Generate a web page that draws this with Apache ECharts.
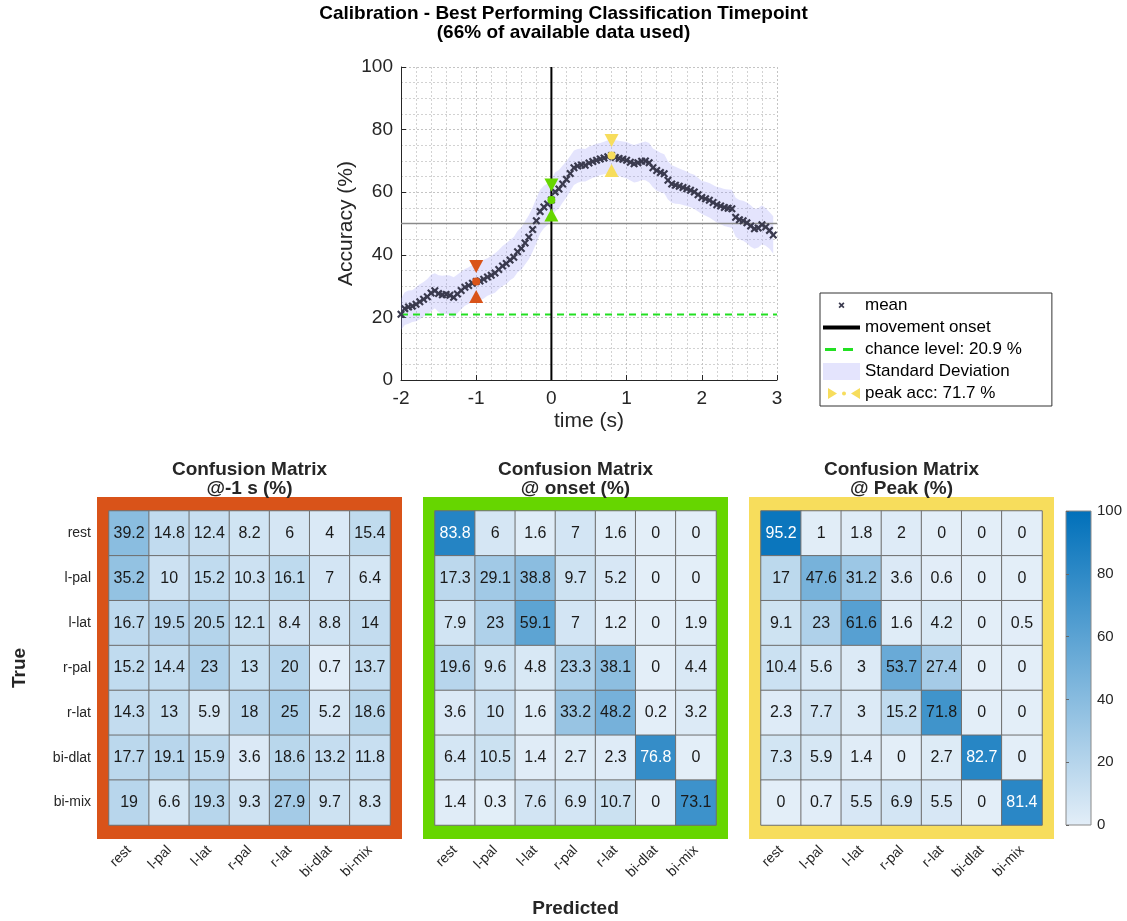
<!DOCTYPE html>
<html>
<head>
<meta charset="utf-8">
<title>Calibration - Best Performing Classification Timepoint</title>
<script src="https://cdn.jsdelivr.net/npm/echarts@6/dist/echarts.min.js"></script>
<style>
  html, body { margin: 0; padding: 0; background: #fff; }
  #echarts-wrapper { width: 1127px; height: 921px; }
</style>
</head>
<body>
<div id="echarts-wrapper"></div>
<script>
// ---- data --------------------------------------------------------------
// sample times of the accuracy curve (s)
var times = [
  -2.00, -1.95, -1.90, -1.85, -1.80, -1.75, -1.70, -1.65, -1.60, -1.55,
  -1.50, -1.45, -1.40, -1.35, -1.30, -1.25, -1.20, -1.15, -1.10, -1.05,
  -1.00, -0.95, -0.90, -0.85, -0.80, -0.75, -0.70, -0.65, -0.60, -0.55,
  -0.50, -0.45, -0.40, -0.35, -0.30, -0.25, -0.20, -0.15, -0.10, -0.05,
   0.00,  0.05,  0.10,  0.15,  0.20,  0.25,  0.30,  0.35,  0.40,  0.45,
   0.50,  0.55,  0.60,  0.65,  0.70,  0.75,  0.80,  0.85,  0.90,  0.95,
   1.00,  1.05,  1.10,  1.15,  1.20,  1.25,  1.30,  1.35,  1.40,  1.45,
   1.50,  1.55,  1.60,  1.65,  1.70,  1.75,  1.80,  1.85,  1.90,  1.95,
   2.00,  2.05,  2.10,  2.15,  2.20,  2.25,  2.30,  2.35,  2.40,  2.45,
   2.50,  2.55,  2.60,  2.65,  2.70,  2.75,  2.80,  2.85,  2.90,  2.95
];
// mean accuracy (%)
var meanAcc = [
  21.0, 22.8, 23.3, 23.6, 24.2, 25.0, 25.8, 26.6, 27.8, 28.5,
  27.6, 27.2, 27.3, 27.1, 26.4, 27.5, 28.6, 29.6, 30.2, 30.9,
  31.5, 31.6, 32.2, 32.9, 33.5, 34.2, 35.3, 36.4, 37.2, 38.3,
  39.2, 41.0, 42.0, 43.8, 45.6, 48.1, 50.9, 53.8, 55.3, 56.2,
  57.5, 60.1, 61.0, 62.6, 64.1, 66.0, 67.8, 68.4, 68.7, 68.6,
  69.3, 69.8, 70.2, 70.6, 70.9, 71.3, 71.7, 71.1, 70.8, 70.5,
  70.2, 69.6, 69.1, 69.4, 69.9, 70.0, 69.4, 67.8, 66.9, 66.3,
  65.9, 63.8, 62.6, 62.2, 61.9, 61.5, 61.1, 60.6, 60.1, 59.2,
  58.3, 57.9, 57.4, 56.7, 56.0, 55.6, 55.1, 54.9, 54.7, 52.0,
  51.2, 50.9, 50.2, 49.2, 48.3, 48.6, 49.6, 48.9, 47.8, 46.3
];
// standard deviation (%)
var stdAcc = [
  5.0, 5.2, 5.3, 5.1, 5.4, 5.6, 5.5, 5.7, 5.8, 5.6,
  5.9, 6.1, 6.2, 6.3, 6.4, 6.2, 6.0, 5.9, 5.8, 5.9,
  6.0, 6.1, 6.2, 6.0, 6.1, 6.3, 6.2, 6.4, 6.5, 6.4,
  6.5, 6.6, 6.8, 6.9, 7.0, 7.1, 7.2, 7.0, 6.8, 6.6,
  6.5, 6.3, 6.1, 5.9, 5.8, 5.6, 5.5, 5.4, 5.3, 5.2,
  5.3, 5.2, 5.3, 5.1, 5.2, 5.3, 5.4, 5.5, 5.6, 5.7,
  5.8, 5.9, 6.0, 6.1, 6.0, 6.2, 6.3, 6.2, 6.4, 6.3,
  6.2, 6.1, 6.0, 5.9, 5.7, 5.6, 5.5, 5.4, 5.5, 5.4,
  5.3, 5.4, 5.5, 5.6, 5.7, 5.8, 5.9, 6.0, 6.1, 6.2,
  6.3, 6.4, 6.5, 6.6, 6.4, 6.3, 6.2, 6.0, 5.9, 6.0
];
var chanceLevel = 20.9;
var refLevel = 50;
var onsetTime = 0;
var timeRange = [-2, 3];
var accRange = [0, 100];

// highlighted timepoints: -1 s, onset, peak
var markTimes = [-1, 0, 0.8];
var markAcc = [31.5, 57.5, 71.7];

var classes = ['rest', 'l-pal', 'l-lat', 'r-pal', 'r-lat', 'bi-dlat', 'bi-mix'];
var cmMinus1 = [
  [39.2, 14.8, 12.4, 8.2, 6, 4, 15.4],
  [35.2, 10, 15.2, 10.3, 16.1, 7, 6.4],
  [16.7, 19.5, 20.5, 12.1, 8.4, 8.8, 14],
  [15.2, 14.4, 23, 13, 20, 0.7, 13.7],
  [14.3, 13, 5.9, 18, 25, 5.2, 18.6],
  [17.7, 19.1, 15.9, 3.6, 18.6, 13.2, 11.8],
  [19, 6.6, 19.3, 9.3, 27.9, 9.7, 8.3]
];
var cmOnset = [
  [83.8, 6, 1.6, 7, 1.6, 0, 0],
  [17.3, 29.1, 38.8, 9.7, 5.2, 0, 0],
  [7.9, 23, 59.1, 7, 1.2, 0, 1.9],
  [19.6, 9.6, 4.8, 23.3, 38.1, 0, 4.4],
  [3.6, 10, 1.6, 33.2, 48.2, 0.2, 3.2],
  [6.4, 10.5, 1.4, 2.7, 2.3, 76.8, 0],
  [1.4, 0.3, 7.6, 6.9, 10.7, 0, 73.1]
];
var cmPeak = [
  [95.2, 1, 1.8, 2, 0, 0, 0],
  [17, 47.6, 31.2, 3.6, 0.6, 0, 0],
  [9.1, 23, 61.6, 1.6, 4.2, 0, 0.5],
  [10.4, 5.6, 3, 53.7, 27.4, 0, 0],
  [2.3, 7.7, 3, 15.2, 71.8, 0, 0],
  [7.3, 5.9, 1.4, 0, 2.7, 82.7, 0],
  [0, 0.7, 5.5, 6.9, 5.5, 0, 81.4]
];
var cmTitles = ['Confusion Matrix\n@-1 s (%)', 'Confusion Matrix\n@ onset (%)', 'Confusion Matrix\n@ Peak (%)'];
var colorbarTicks = [0, 20, 40, 60, 80, 100];

// ---- look --------------------------------------------------------------
var FONT = '"Liberation Sans", Arial, Helvetica, sans-serif';
var INK = '#262626';
var markColors = ['#D95319', '#66D600', '#F7DD5C'];
var bandColor = 'rgba(150,150,248,0.26)';
var cmapLow = '#E3EEF8', cmapHigh = '#0070BA';
var peakName = 'peak acc: ' + markAcc[2] + ' %';
var chanceName = 'chance level: ' + chanceLevel + ' %';

var cmLefts = [109, 435, 761], cmTop = 511, cmW = 281, cmH = 314;

// filled "x" used for the mean markers
var crossPath = 'path://M0,1.9L1.9,0L5,3.1L8.1,0L10,1.9L6.9,5L10,8.1L8.1,10L5,6.9L1.9,10L0,8.1L3.1,5Z';

var myChart = echarts.init(document.getElementById('echarts-wrapper'), null, {renderer: 'canvas'});

var titles = [{
  text: 'Calibration - Best Performing Classification Timepoint\n(66% of available data used)',
  left: 'center', top: 4, padding: 0,
  textStyle: {fontFamily: FONT, fontSize: 19, fontWeight: 'bold', color: '#000', lineHeight: 19}
}];
var grids = [{left: 401, top: 67, width: 376, height: 313, outerBoundsMode: 'none'}];
var xAxes = [{
  type: 'value', gridIndex: 0, min: timeRange[0], max: timeRange[1], interval: 1,
  name: 'time (s)', nameLocation: 'middle', nameGap: 31,
  nameTextStyle: {fontFamily: FONT, fontSize: 21, color: INK},
  axisLine: {show: true, onZero: false, lineStyle: {color: INK, width: 1}},
  axisTick: {show: true, inside: true, length: 5, lineStyle: {color: INK}},
  axisLabel: {fontFamily: FONT, fontSize: 19, color: INK, margin: 9},
  splitLine: {show: true, lineStyle: {color: '#c4c4c4', type: [2, 2]}},
  minorTick: {show: false, splitNumber: 5},
  minorSplitLine: {show: true, lineStyle: {color: '#d2d2d2', type: [2, 2]}}
}];
var yAxes = [{
  type: 'value', gridIndex: 0, min: accRange[0], max: accRange[1], interval: 20,
  name: 'Accuracy (%)', nameLocation: 'middle', nameGap: 44, nameRotate: 90,
  nameTextStyle: {fontFamily: FONT, fontSize: 21, color: INK},
  axisLine: {show: true, onZero: false, lineStyle: {color: INK, width: 1}},
  axisTick: {show: true, inside: true, length: 5, lineStyle: {color: INK}},
  axisLabel: {fontFamily: FONT, fontSize: 19, color: INK, margin: 8},
  splitLine: {show: true, lineStyle: {color: '#c4c4c4', type: [2, 2]}},
  minorTick: {show: false, splitNumber: 4},
  minorSplitLine: {show: true, lineStyle: {color: '#d2d2d2', type: [2, 2]}}
}];

// std band: one polygon, mean+std forwards then mean-std backwards
function renderBand(params, api) {
  if (params.dataIndex !== 0) return null;
  var pts = [];
  var i;
  for (i = 0; i < times.length; i++) pts.push(api.coord([times[i], meanAcc[i] + stdAcc[i]]));
  for (i = times.length - 1; i >= 0; i--) pts.push(api.coord([times[i], meanAcc[i] - stdAcc[i]]));
  return {type: 'polygon', shape: {points: pts}, style: {fill: bandColor}};
}

var series = [
  {
    name: 'Standard Deviation', type: 'custom', xAxisIndex: 0, yAxisIndex: 0, z: 1, silent: true,
    renderItem: renderBand, clip: true,
    color: bandColor, itemStyle: {color: bandColor},
    data: times.map(function (t, i) { return [t, meanAcc[i] - stdAcc[i], meanAcc[i] + stdAcc[i]]; }),
    encode: {x: 0, y: [1, 2]}
  },
  {
    name: 'ref', type: 'line', xAxisIndex: 0, yAxisIndex: 0, symbol: 'none', silent: true, z: 2,
    data: [[timeRange[0], refLevel], [timeRange[1], refLevel]],
    lineStyle: {color: '#8a8a8a', width: 1.5}
  },
  {
    name: chanceName, type: 'line', xAxisIndex: 0, yAxisIndex: 0, symbol: 'none', silent: true, z: 3,
    data: [[timeRange[0], chanceLevel], [timeRange[1], chanceLevel]],
    color: '#22E022',
    lineStyle: {color: '#22E022', width: 2, type: [7, 5]}
  },
  {
    name: 'movement onset', type: 'line', xAxisIndex: 0, yAxisIndex: 0, symbol: 'none', silent: true, z: 3,
    data: [[onsetTime, accRange[0]], [onsetTime, accRange[1]]],
    color: '#000',
    lineStyle: {color: '#000', width: 2}
  },
  {
    name: 'mean', type: 'scatter', xAxisIndex: 0, yAxisIndex: 0, z: 4, silent: true,
    symbol: crossPath, symbolSize: 8,
    itemStyle: {color: '#3A3A4E', opacity: 1},
    data: times.map(function (t, i) { return [t, meanAcc[i]]; })
  }
];

markTimes.forEach(function (t, i) {
  var v = markAcc[i];
  series.push({
    name: i === 2 ? peakName : 'marker' + i,
    type: 'scatter', xAxisIndex: 0, yAxisIndex: 0, z: 5, silent: true,
    color: markColors[i],
    itemStyle: {color: markColors[i], opacity: 1},
    data: [
      {value: [t, v], symbol: 'circle', symbolSize: 8},
      {value: [t, v], symbol: 'triangle', symbolRotate: 180, symbolSize: [14, 13], symbolOffset: [0, -15]},
      {value: [t, v], symbol: 'triangle', symbolSize: [14, 13], symbolOffset: [0, 15]}
    ]
  });
});

// ---- confusion matrices --------------------------------------------------
var frames = [];
var heatIdx = [];
[cmMinus1, cmOnset, cmPeak].forEach(function (cm, k) {
  var g = k + 1;
  var left = cmLefts[k];
  grids.push({left: left, top: cmTop, width: cmW, height: cmH, outerBoundsMode: 'none'});
  titles.push({
    text: cmTitles[k], left: left + cmW / 2, textAlign: 'center', top: 460, padding: 0,
    textStyle: {fontFamily: FONT, fontSize: 19, fontWeight: 'bold', color: INK, lineHeight: 19}
  });
  frames.push({
    type: 'rect', z: -10,
    shape: {x: left - 12, y: cmTop - 14, width: cmW + 24, height: cmH + 28},
    style: {fill: markColors[k]}
  });
  xAxes.push({
    type: 'category', gridIndex: g, data: classes,
    name: k === 1 ? 'Predicted' : '', nameLocation: 'middle', nameGap: 74,
    nameTextStyle: {fontFamily: FONT, fontSize: 19, fontWeight: 'bold', color: INK},
    axisLine: {show: false}, axisTick: {show: false}, splitLine: {show: false},
    axisLabel: {interval: 0, rotate: 45, fontFamily: FONT, fontSize: 14, color: INK, margin: 23}
  });
  yAxes.push({
    type: 'category', gridIndex: g, data: classes, inverse: true,
    name: k === 0 ? 'True' : '', nameLocation: 'middle', nameGap: 80, nameRotate: 90,
    nameTextStyle: {fontFamily: FONT, fontSize: 19, fontWeight: 'bold', color: INK},
    axisLine: {show: false}, axisTick: {show: false}, splitLine: {show: false},
    axisLabel: {show: k === 0, interval: 0, fontFamily: FONT, fontSize: 14, color: INK, margin: 18}
  });
  var cells = [];
  cm.forEach(function (row, r) {
    row.forEach(function (v, c) {
      cells.push({value: [c, r, v], label: {color: v > 75 ? '#fff' : '#1a1a1a'}});
    });
  });
  heatIdx.push(series.length);
  series.push({
    name: cmTitles[k], type: 'heatmap', xAxisIndex: g, yAxisIndex: g, z: 2,
    data: cells,
    itemStyle: {borderColor: '#6e6e6e', borderWidth: 1},
    label: {show: true, fontFamily: FONT, fontSize: 16, formatter: function (p) { return p.value[2]; }},
    emphasis: {disabled: true}
  });
});

// colorbar
grids.push({
  left: 1066, top: cmTop, width: 25, height: cmH, show: true, outerBoundsMode: 'none',
  borderColor: '#8a8a8a', borderWidth: 1,
  backgroundColor: new echarts.graphic.LinearGradient(0, 0, 0, 1, [
    {offset: 0, color: cmapHigh}, {offset: 1, color: cmapLow}
  ])
});
xAxes.push({type: 'value', gridIndex: 4, show: false, min: 0, max: 1});
yAxes.push({
  type: 'value', gridIndex: 4, position: 'right',
  min: colorbarTicks[0], max: colorbarTicks[colorbarTicks.length - 1],
  interval: colorbarTicks[1] - colorbarTicks[0],
  axisLine: {show: false}, splitLine: {show: false},
  axisTick: {show: true, length: 3, lineStyle: {color: '#666'}},
  axisLabel: {fontFamily: FONT, fontSize: 15, color: INK, margin: 6}
});

var option = {
  animation: false,
  backgroundColor: '#fff',
  textStyle: {fontFamily: FONT},
  title: titles,
  legend: {
    orient: 'vertical', left: 820, top: 293,
    itemWidth: 37, itemHeight: 17, itemGap: 5,
    padding: [4, 30, 4, 3],
    borderColor: '#333', borderWidth: 1, backgroundColor: '#fff',
    selectedMode: false,
    textStyle: {fontFamily: FONT, fontSize: 17, color: '#000'},
    data: [
      {name: 'mean', icon: 'path://M0,0M37,17M15.5,6.5L16.7,5.3L18.5,7.1L20.3,5.3L21.5,6.5L19.7,8.3L21.5,10.1L20.3,11.3L18.5,9.5L16.7,11.3L15.5,10.1L17.3,8.3Z'},
      {name: 'movement onset', icon: 'path://M0,0M37,17M0,6.5h37v4h-37Z'},
      {name: chanceName, icon: 'path://M0,0M37,17M2,7h11v3h-11Z M20,7h10v3h-10Z'},
      {name: 'Standard Deviation', icon: 'rect'},
      {name: peakName, icon: 'path://M0,0M37,17M5,3L14,8.5L5,14Z M19,8.5A2,2 0 1,1 23,8.5A2,2 0 1,1 19,8.5Z M37,3L28,8.5L37,14Z'}
    ]
  },
  grid: grids,
  xAxis: xAxes,
  yAxis: yAxes,
  visualMap: {
    show: false, type: 'continuous', min: 0, max: 100, dimension: 2,
    seriesIndex: heatIdx,
    inRange: {color: [cmapLow, cmapHigh]}
  },
  graphic: frames,
  series: series
};

myChart.setOption(option);
</script>
</body>
</html>
